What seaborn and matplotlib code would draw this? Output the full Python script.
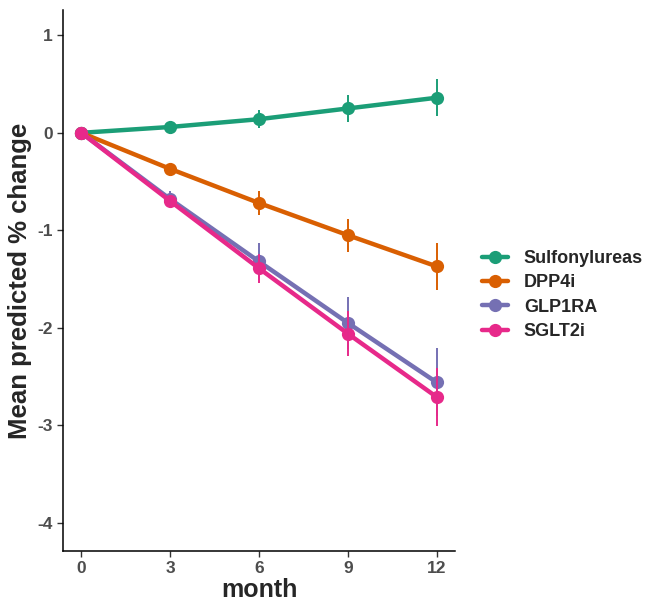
import pandas as pd
import matplotlib.pyplot as plt
import seaborn as sns

# values
months = [0, 3, 6, 9, 12]
groups = ['Sulfonylureas', 'DPP4i', 'GLP1RA', 'SGLT2i']
sulf_mean = [0, 0.06, 0.14, 0.25, 0.36]
sulf_err = [0, 0.03, 0.095, 0.14, 0.19]
dpp4_mean = [0, -0.37, -0.72, -1.05, -1.37]
dpp4_err = [0, 0.04, 0.12, 0.17, 0.24]
glp1_mean = [0, -0.68, -1.32, -1.95, -2.56]
glp1_err = [0, 0.08, 0.19, 0.27, 0.35]
sglt2_mean = [0, -0.70, -1.39, -2.06, -2.71]
sglt2_err = [0, 0.06, 0.15, 0.23, 0.30]
colors = ['#1B9E77', '#D95F02', '#7570B3', '#E7298A']

means = [sulf_mean, dpp4_mean, glp1_mean, sglt2_mean]
errs = [sulf_err, dpp4_err, glp1_err, sglt2_err]
rows = []
for g, m, e in zip(groups, means, errs):
    for mo, v, s in zip(months, m, e):
        rows.append({'month': mo, 'value': v, 'err': s, 'group': g})
df = pd.DataFrame(rows)
palette = dict(zip(groups, colors))

sns.set_style('white')
plt.rcParams['font.family'] = ['Liberation Sans', 'DejaVu Sans']
plt.rcParams['axes.unicode_minus'] = False

fig = plt.figure(figsize=(6.48, 6.02), dpi=100)
ax = fig.add_axes([63 / 648, 1 - 551 / 602, (455 - 63) / 648, (551 - 10) / 602])

sns.lineplot(data=df, x='month', y='value', hue='group', hue_order=groups,
             palette=palette, marker='o', markersize=9.5, markeredgewidth=0,
             linewidth=3.2, ax=ax, legend=True)

for g in groups:
    sub = df[df['group'] == g]
    ax.errorbar(sub['month'], sub['value'], yerr=sub['err'], fmt='none',
                ecolor=palette[g], elinewidth=1.4, capsize=0, zorder=3)

ax.set_xlim(-0.62, 12.62)
ax.set_ylim(-4.29, 1.26)
ax.set_xticks(months)
ax.set_yticks([1, 0, -1, -2, -3, -4])
ax.set_xlabel('month', fontsize=18, fontweight='bold', labelpad=1)
ax.set_ylabel('Mean predicted % change', fontsize=18.5, fontweight='bold', labelpad=4)
ax.tick_params(axis='both', labelsize=12.5, labelcolor='#4D4D4D', colors='#333333',
               length=4, width=1, direction='out', left=True, bottom=True)
for lab in ax.get_xticklabels() + ax.get_yticklabels():
    lab.set_fontweight('bold')
for side in ['top', 'right']:
    ax.spines[side].set_visible(False)
for side in ['left', 'bottom']:
    ax.spines[side].set_color('black')
    ax.spines[side].set_linewidth(1.1)
ax.grid(False)

handles, labels = ax.get_legend_handles_labels()
ax.get_legend().remove()
leg = fig.legend(handles, labels, loc='center left',
                 bbox_to_anchor=(466 / 648, 1 - 295 / 602), frameon=False,
                 prop={'weight': 'bold', 'size': 13}, handlelength=1.4,
                 labelspacing=0.4, handletextpad=0.9)

fig.savefig('out.png', dpi=100)
